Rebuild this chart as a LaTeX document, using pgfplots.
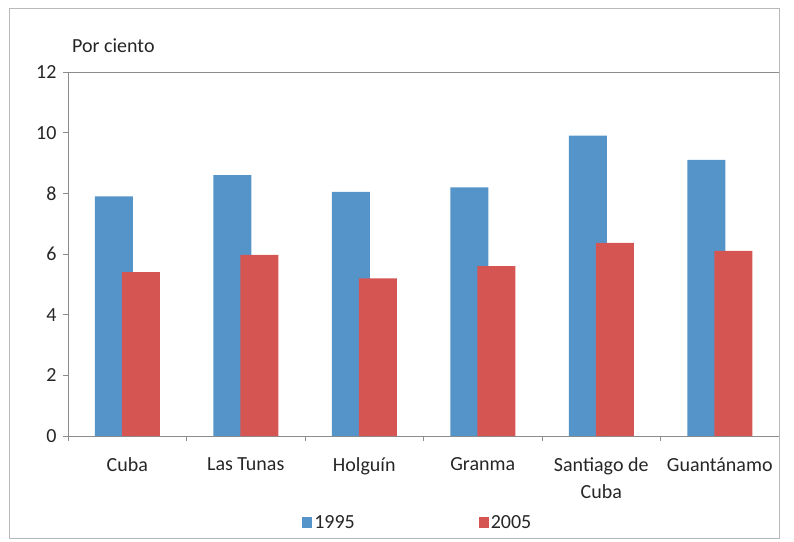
\documentclass[border=0pt]{standalone}
\usepackage{pgfplots}
\pgfplotsset{compat=1.18}
\usepackage{fontspec}
\setmainfont{Carlito}
\definecolor{cblue}{HTML}{5594C9}
\definecolor{cred}{HTML}{D55553}
\definecolor{axgray}{HTML}{8C8C8C}
\definecolor{txt}{HTML}{262626}
\begin{document}
\begin{tikzpicture}
\useasboundingbox (-68bp,-106bp) rectangle (726bp,436bp);
\begin{axis}[
  scale only axis,
  width=711bp, height=364bp,
  xmin=-0.5, xmax=5.5, ymin=0, ymax=12,
  axis x line*=bottom, axis y line*=left,
  axis line style={-, axgray, line width=0.8bp},
  ybar, bar width=38bp,
  xtick={0,...,5},
  xticklabels={Cuba, Las Tunas, Holguín, Granma, {Santiago de\\Cuba}, Guantánamo},
  major x tick style={draw=none},
  minor xtick={-0.5,0.5,...,5.5},
  minor x tick style={axgray, line width=0.8bp},
  minor tick length=5bp,
  ytick={0,2,...,12},
  major y tick style={axgray, line width=0.8bp},
  major tick length=5bp,
  tick align=outside,
  /pgf/number format/assume math mode=true,
  tick label style={font=\fontsize{20bp}{27bp}\selectfont, text=txt},
  xticklabel style={align=center, yshift=-13bp},
  yticklabel style={xshift=-3bp},
  legend columns=2,
  legend style={draw=none, at={(0.492,-0.238)}, anchor=center,
    font=\fontsize{20bp}{24bp}\selectfont, text=txt,
    /tikz/every even column/.append style={column sep=122bp},
    nodes={inner sep=2bp}},
  legend image code/.code={\fill[#1, draw=none] (0bp,-5.5bp) rectangle (10bp,5.5bp);},
]
\addplot[fill=cblue, draw=none, bar shift=-13.5bp] coordinates {(0,7.9) (1,8.6) (2,8.05) (3,8.2) (4,9.9) (5,9.1)};
\addplot[fill=cred, draw=none, bar shift=13.5bp] coordinates {(0,5.4) (1,5.97) (2,5.2) (3,5.6) (4,6.37) (5,6.1)};
\legend{1995, 2005}
\draw[axgray, line width=0.8bp] (rel axis cs:0,1) -- (rel axis cs:1,1);
\end{axis}
\node[anchor=base west, inner sep=0pt, text=txt, font=\fontsize{20bp}{24bp}\selectfont] at (4bp,383bp) {Por ciento};
\draw[gray!55, line width=1bp] (-58bp,427bp) rectangle (711bp,-102bp);
\end{tikzpicture}
\end{document}
